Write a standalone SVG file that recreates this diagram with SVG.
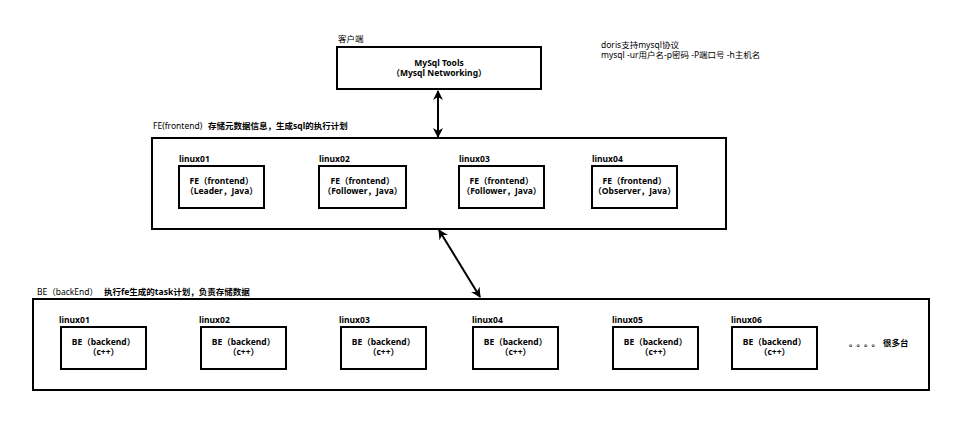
<svg xmlns="http://www.w3.org/2000/svg" width="960" height="430" viewBox="0 0 960 430">
<style>
text{font-family:"Noto Sans","Noto Sans CJK SC",sans-serif;font-size:8.5px;fill:#000}
.b{font-weight:bold}
.c{text-anchor:middle}
.cjk{font-family:"Noto Sans CJK SC",sans-serif}
.box{fill:#fff;stroke:#000;stroke-width:2}
.outer{fill:#fff;stroke:#000;stroke-width:2}
.con{stroke:#000;stroke-width:2;fill:none;marker-start:url(#ah);marker-end:url(#ah)}
</style>
<defs>
<marker id="ah" viewBox="0 0 10 10" refX="9" refY="5" markerWidth="5" markerHeight="5" orient="auto-start-reverse" markerUnits="strokeWidth">
<path d="M0,0 L10,5 L0,10 L3,5 Z" fill="#000"/>
</marker>
</defs>
<rect width="960" height="430" fill="#fff"/>

<g id="note">
<text x="601" y="48">doris支持mysql协议</text>
<text x="601" y="58">mysql -ur用户名-p密码 -P端口号  -h主机名</text>
</g>

<g id="client">
<text x="338" y="42">客户端</text>
<rect class="box" x="337" y="47" width="204" height="42"/>
<text class="b c" x="439" y="66">MySql Tools</text>
<text class="b c" x="439" y="76">（Mysql Networking）</text>
</g>

<g id="fe-cluster">
<text x="153" y="129">FE(frontend)</text>
<text class="b" x="208" y="129">存储元数据信息，生成sql的执行计划</text>
<rect class="outer" x="152" y="138" width="574" height="91"/>
</g>
<g id="fe1">
<text class="b" x="179" y="162">linux01</text>
<rect class="box" x="179" y="166" width="85" height="42"/>
<text class="b c" x="221.5" y="184">FE（frontend）</text>
<text class="b c" x="221.5" y="194">（Leader，Java）</text>
</g>
<g id="fe2">
<text class="b" x="319" y="162">linux02</text>
<rect class="box" x="319" y="166" width="87" height="42"/>
<text class="b c" x="362.5" y="184">FE（frontend）</text>
<text class="b c" x="362.5" y="194">（Follower，Java）</text>
</g>
<g id="fe3">
<text class="b" x="459" y="162">linux03</text>
<rect class="box" x="459" y="166" width="85" height="42"/>
<text class="b c" x="501.5" y="184">FE（frontend）</text>
<text class="b c" x="501.5" y="194">（Follower，Java）</text>
</g>
<g id="fe4">
<text class="b" x="592" y="162">linux04</text>
<rect class="box" x="592" y="166" width="85" height="42"/>
<text class="b c" x="634.5" y="184">FE（frontend）</text>
<text class="b c" x="634.5" y="194">（Observer，Java）</text>
</g>

<g id="be-cluster">
<text x="37" y="295">BE（backEnd）</text>
<text class="b" x="104" y="295">执行fe生成的task计划，负责存储数据</text>
<rect class="outer" x="33" y="299" width="896" height="91"/>
<text class="b cjk" x="849 856.5 864 871.5 883" y="346">。。。。很多台</text>
</g>
<g id="be1">
<text class="b" x="59" y="323">linux01</text>
<rect class="box" x="61" y="327" width="85" height="42"/>
<text class="b c" x="103.5" y="345">BE（backend）</text>
<text class="b c" x="103.5" y="355">（c++）</text>
</g>
<g id="be2">
<text class="b" x="199" y="323">linux02</text>
<rect class="box" x="201" y="327" width="85" height="42"/>
<text class="b c" x="243.5" y="345">BE（backend）</text>
<text class="b c" x="243.5" y="355">（c++）</text>
</g>
<g id="be3">
<text class="b" x="339" y="323">linux03</text>
<rect class="box" x="341" y="327" width="85" height="42"/>
<text class="b c" x="383.5" y="345">BE（backend）</text>
<text class="b c" x="383.5" y="355">（c++）</text>
</g>
<g id="be4">
<text class="b" x="472" y="323">linux04</text>
<rect class="box" x="473" y="327" width="85" height="42"/>
<text class="b c" x="515.5" y="345">BE（backend）</text>
<text class="b c" x="515.5" y="355">（c++）</text>
</g>
<g id="be5">
<text class="b" x="612" y="323">linux05</text>
<rect class="box" x="613" y="327" width="85" height="42"/>
<text class="b c" x="655.5" y="345">BE（backend）</text>
<text class="b c" x="655.5" y="355">（c++）</text>
</g>
<g id="be6">
<text class="b" x="731" y="323">linux06</text>
<rect class="box" x="732" y="327" width="85" height="42"/>
<text class="b c" x="774.5" y="345">BE（backend）</text>
<text class="b c" x="774.5" y="355">（c++）</text>
</g>

<g id="connectors">
<line class="con" x1="438" y1="91" x2="438" y2="137"/>
<line class="con" x1="439" y1="230" x2="480" y2="297"/>
</g>
</svg>
